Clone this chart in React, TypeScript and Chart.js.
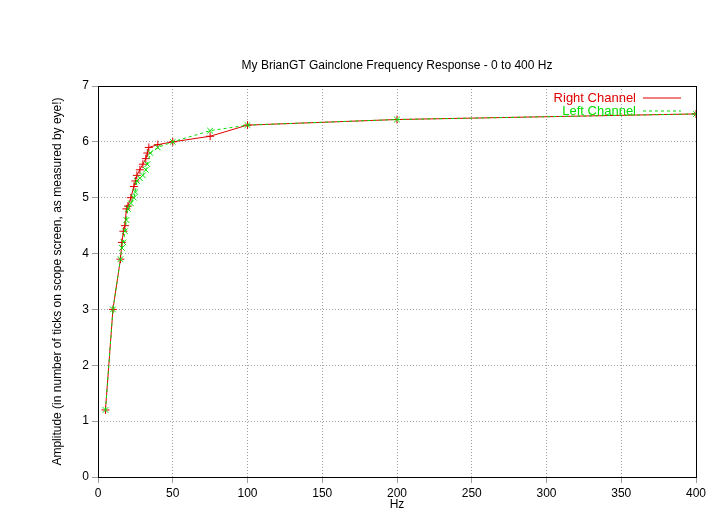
import { useEffect, useRef } from "react";
import Chart from "chart.js/auto";

const rightHz = [5, 10, 15, 16, 17, 18, 19, 20, 22, 24, 25, 26, 28, 30, 32, 33, 34, 40, 50, 75, 100, 200, 400];
const rightAmp = [1.2, 3.0, 3.9, 4.2, 4.4, 4.5, 4.8, 4.85, 5.0, 5.2, 5.3, 5.4, 5.5, 5.6, 5.7, 5.8, 5.9, 5.95, 6.0, 6.1, 6.3, 6.4, 6.5];
const leftHz = [5, 10, 15, 16, 17, 18, 19, 20, 22, 24, 25, 26, 28, 30, 32, 33, 35, 40, 50, 75, 100, 200, 400];
const leftAmp = [1.2, 3.0, 3.9, 4.1, 4.2, 4.4, 4.6, 4.8, 4.9, 5.0, 5.1, 5.3, 5.35, 5.4, 5.5, 5.6, 5.8, 5.9, 6.0, 6.2, 6.3, 6.4, 6.5];

const FONT = "Liberation Sans, Arial, sans-serif";

export default function App() {
  const ref = useRef<HTMLCanvasElement>(null);
  useEffect(() => {
    if (!ref.current) return;
    const overlay = {
      id: "overlay",
      afterDraw(chart: any) {
        const ctx = chart.ctx;
        const a = chart.chartArea;
        ctx.save();
        ctx.strokeStyle = "#000";
        ctx.lineWidth = 1;
        ctx.strokeRect(a.left + 0.5, a.top + 0.5, a.right - a.left, a.bottom - a.top);
        ctx.font = `12px ${FONT}`;
        ctx.fillStyle = "#000";
        ctx.textAlign = "center";
        ctx.textBaseline = "middle";
        ctx.fillText("My BrianGT Gainclone Frequency Response - 0 to 400 Hz", (a.left + a.right) / 2, 66);
        const items = [
          { t: "Right Channel", c: "#e00000", dash: [] as number[], y: 98 },
          { t: "Left Channel", c: "#00e000", dash: [3, 3], y: 111 },
        ];
        ctx.font = `13px ${FONT}`;
        for (const it of items) {
          ctx.textAlign = "right";
          ctx.fillStyle = it.c;
          ctx.fillText(it.t, 636, it.y);
          ctx.strokeStyle = it.c;
          ctx.setLineDash(it.dash);
          ctx.beginPath();
          ctx.moveTo(643, it.y);
          ctx.lineTo(681, it.y);
          ctx.stroke();
        }
        ctx.restore();
      },
    };
    const grid = {
      color: "#a0a0a0",
      tickLength: 6,
    };
    const chart = new Chart(ref.current, {
      type: "line",
      data: {
        datasets: [
          {
            label: "Right Channel",
            data: rightHz.map((x, i) => ({ x, y: rightAmp[i] })),
            borderColor: "#e00000",
            backgroundColor: "#e00000",
            borderWidth: 1,
            pointStyle: "cross",
            pointRadius: 4,
            pointBorderWidth: 1,
            order: 1,
          },
          {
            label: "Left Channel",
            data: leftHz.map((x, i) => ({ x, y: leftAmp[i] })),
            borderColor: "#00e000",
            backgroundColor: "#00e000",
            borderWidth: 1,
            borderDash: [3, 3],
            pointStyle: "crossRot",
            pointRadius: 4,
            pointBorderWidth: 1,
            order: 0,
          },
        ],
      },
      options: {
        animation: false,
        responsive: false,
        layout: { padding: { top: 86, right: 21, left: 50, bottom: 0 } },
        plugins: { legend: { display: false }, tooltip: { enabled: false } },
        scales: {
          x: {
            type: "linear",
            min: 0,
            max: 400,
            ticks: { stepSize: 50, color: "#000", font: { family: FONT, size: 12 } },
            grid,
            border: { display: false, dash: [1, 2] },
            title: { display: true, text: "Hz", color: "#000", font: { family: FONT, size: 12 }, padding: 4 },
            afterFit: (s: any) => { s.height = 39; },
          },
          y: {
            min: 0,
            max: 7,
            ticks: { stepSize: 1, color: "#000", font: { family: FONT, size: 12 } },
            grid,
            border: { display: false, dash: [1, 2] },
            title: {
              display: true,
              text: "Amplitude (in number of ticks on scope screen, as measured by eye!)",
              color: "#000",
              font: { family: FONT, size: 12 },
              padding: 0,
            },
            afterFit: (s: any) => { s.width = 48; },
          },
        },
      },
      plugins: [overlay],
    });
    return () => chart.destroy();
  }, []);
  return (
    <div style={{ position: "absolute", left: 0, top: 0, background: "#fff" }}>
      <canvas ref={ref} width={717} height={516} />
    </div>
  );
}
